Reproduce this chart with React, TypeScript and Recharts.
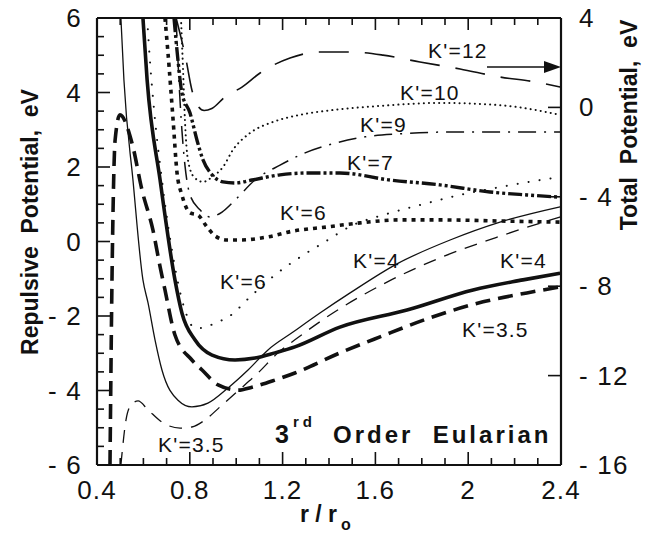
import React from "react";
import { LineChart, Line, XAxis, YAxis, Customized } from "recharts";

type Pt = [number, number];

const INK = "#111";
const FONT = "'Liberation Sans', Arial, Helvetica, sans-serif";

// curves, [r / ro, eV]
const K35_THICK: Pt[] = [
  [0.456, -6], [0.465, -0.85], [0.469, 0.77], [0.478, 2.72], [0.499, 3.4],
  [0.551, 2.64], [0.594, 1.38], [0.641, 0.31], [0.672, -0.68], [0.693, -1.3],
  [0.736, -2.51], [0.809, -3.18], [0.853, -3.45], [0.922, -3.85], [1.008, -3.99],
  [1.068, -3.91], [1.167, -3.72], [1.253, -3.53], [1.447, -2.99], [1.62, -2.56],
  [1.835, -2.05], [2.064, -1.62], [2.253, -1.38], [2.396, -1.22],
];
const K35_THIN: Pt[] = [
  [0.503, -6], [0.508, -5.68], [0.525, -4.79], [0.547, -4.39], [0.577, -4.28],
  [0.62, -4.52], [0.68, -4.85], [0.758, -5.01], [0.809, -4.98], [0.866, -4.79],
  [0.93, -4.44], [1.008, -4.01], [1.094, -3.53], [1.18, -2.99], [1.253, -2.64],
  [1.417, -1.92], [1.65, -1.09], [1.878, -0.44], [2.15, 0.17], [2.396, 0.66],
];
const K4_THIN: Pt[] = [
  [0.503, 6], [0.516, 4.34], [0.555, 1.65], [0.598, -1.03], [0.62, -1.65],
  [0.65, -2.64], [0.68, -3.45], [0.749, -4.26], [0.809, -4.44], [0.878, -4.34],
  [0.965, -3.93], [1.051, -3.45], [1.137, -2.91], [1.245, -2.43], [1.361, -1.92],
  [1.491, -1.38], [1.693, -0.6], [1.922, 0.04], [2.137, 0.52], [2.396, 0.93],
];
const K4_THICK: Pt[] = [
  [0.598, 6], [0.616, 4.34], [0.672, 1.65], [0.736, -1.03], [0.766, -1.92],
  [0.822, -2.64], [0.896, -3.05], [0.995, -3.18], [1.081, -3.13], [1.167, -2.99],
  [1.253, -2.83], [1.447, -2.3], [1.736, -1.84], [2.021, -1.3], [2.236, -1.03],
  [2.396, -0.85],
];
const K6_THIN: Pt[] = [
  [0.616, 6], [0.628, 4.87], [0.646, 3.53], [0.68, 1.65], [0.723, -0.23],
  [0.779, -1.84], [0.822, -2.32], [0.853, -2.32], [0.909, -2.19], [0.965, -2.03],
  [1.068, -1.44], [1.167, -0.9], [1.275, -0.42], [1.374, -0.04], [1.503, 0.44],
  [1.633, 0.71], [1.792, 0.98], [1.965, 1.25], [2.137, 1.46], [2.31, 1.65],
  [2.396, 1.73],
];
const K6_THICK: Pt[] = [
  [0.693, 6], [0.706, 5.06], [0.728, 3.26], [0.745, 1.84], [0.766, 1.25],
  [0.801, 0.77], [0.835, 0.71], [0.874, 0.39], [0.909, 0.15], [0.96, 0.04],
  [1.016, 0.04], [1.133, 0.12], [1.245, 0.28], [1.391, 0.39], [1.534, 0.5],
  [1.706, 0.58], [1.878, 0.58], [2.137, 0.55], [2.396, 0.52],
];
const K7: Pt[] = [
  [0.732, 6], [0.749, 4.87], [0.766, 3.99], [0.801, 3.45], [0.831, 2.72],
  [0.857, 2.19], [0.896, 1.79], [0.943, 1.6], [0.995, 1.57], [1.068, 1.65],
  [1.189, 1.79], [1.318, 1.84], [1.447, 1.84], [1.663, 1.65], [1.878, 1.52],
  [2.094, 1.33], [2.253, 1.25], [2.396, 1.19],
];
const K9: Pt[] = [
  [0.741, 6], [0.753, 4.34], [0.766, 2.99], [0.779, 2.05], [0.801, 1.25],
  [0.844, 0.85], [0.887, 0.66], [0.939, 0.79], [0.995, 1.11], [1.081, 1.65],
  [1.189, 2.05], [1.297, 2.38], [1.426, 2.64], [1.555, 2.81], [1.706, 2.89],
  [1.922, 2.94], [2.137, 2.94], [2.396, 2.94],
];
const K10: Pt[] = [
  [0.762, 6], [0.771, 4.6], [0.779, 3.26], [0.792, 2.19], [0.818, 1.73],
  [0.857, 1.6], [0.896, 1.73], [0.943, 2.0], [0.986, 2.46], [1.059, 2.91],
  [1.159, 3.21], [1.275, 3.4], [1.417, 3.53], [1.62, 3.64], [1.878, 3.72],
  [2.137, 3.66], [2.396, 3.4],
];
// K'=12 is read on the right (total potential) axis
const K12_TOTAL: Pt[] = [
  [0.741, 4], [0.784, 2.12], [0.809, 0.78], [0.836, 0.05], [0.862, -0.14],
  [0.895, -0.05], [0.952, 0.47], [1.025, 0.91], [1.103, 1.54], [1.232, 2.21],
  [1.361, 2.48], [1.491, 2.48], [1.633, 2.34], [1.792, 2.03], [1.965, 1.72],
  [2.137, 1.36], [2.288, 1.14], [2.396, 0.91],
];

const X_TICKS = [
  0.4, 0.5, 0.6, 0.7, 0.8, 0.9, 1.0, 1.1, 1.2, 1.3, 1.4, 1.5, 1.6, 1.7, 1.8,
  1.9, 2.0, 2.1, 2.2, 2.3, 2.4,
];
const X_LABELS = [0.4, 0.8, 1.2, 1.6, 2, 2.4];
const LEFT_TICKS = [
  -6, -5.5, -5, -4.5, -4, -3.5, -3, -2.5, -2, -1.5, -1, -0.5, 0, 0.5, 1, 1.5,
  2, 2.5, 3, 3.5, 4, 4.5, 5, 5.5, 6,
];
const LEFT_LABELS = [-6, -4, -2, 0, 2, 4, 6];
const RIGHT_TICKS = [-16, -12, -8, -4, 0, 4];

const SERIES = [
  { name: "K'=3.5 thick", pts: K35_THICK, w: 3.6, dash: "15 8", axis: "left" },
  { name: "K'=3.5 thin", pts: K35_THIN, w: 1.3, dash: "13 9", axis: "left" },
  { name: "K'=4 thin", pts: K4_THIN, w: 1.3, dash: undefined, axis: "left" },
  { name: "K'=4 thick", pts: K4_THICK, w: 3.6, dash: undefined, axis: "left" },
  { name: "K'=6 thin", pts: K6_THIN, w: 2, dash: "0.1 11", axis: "left", cap: "round" },
  { name: "K'=6 thick", pts: K6_THICK, w: 3.6, dash: "4 5", axis: "left" },
  { name: "K'=7", pts: K7, w: 3.4, dash: "14 3 3 3 3 3", axis: "left" },
  { name: "K'=9", pts: K9, w: 1.5, dash: "18 8 2 8", axis: "left" },
  { name: "K'=10", pts: K10, w: 2, dash: "0.1 5", axis: "left", cap: "round" },
  { name: "K'=12", pts: K12_TOTAL, w: 1.6, dash: "30 16", axis: "right" },
];

const CURVE_LABELS = [
  { text: "K'=12", x: 428, y: 58 },
  { text: "K'=10", x: 400, y: 100 },
  { text: "K'=9", x: 360, y: 132 },
  { text: "K'=7", x: 347, y: 170 },
  { text: "K'=6", x: 280, y: 220 },
  { text: "K'=6", x: 220, y: 289 },
  { text: "K'=4", x: 353, y: 268 },
  { text: "K'=4", x: 500, y: 268 },
  { text: "K'=3.5", x: 462, y: 337 },
  { text: "K'=3.5", x: 158, y: 452 },
];

const fmt = (v: number) => (v < 0 ? `- ${Math.abs(v)}` : `${v}`);
const toRows = (pts: Pt[]) => pts.map(([x, y]) => ({ x, y }));

const tickText = { fontFamily: FONT, fontSize: 26, fill: INK, letterSpacing: 1.2 };

function BottomTick(props: any) {
  const { x, y, payload } = props;
  const v = payload.value;
  const major = X_LABELS.some((m) => Math.abs(m - v) < 1e-6);
  return (
    <g>
      <line x1={x} x2={x} y1={y} y2={y - (major ? 13 : 7)} stroke={INK} strokeWidth={1.6} />
      {major && (
        <text x={x} y={y + 34} textAnchor="middle" {...tickText}>
          {v}
        </text>
      )}
    </g>
  );
}

function TopTick(props: any) {
  const { x, y, payload } = props;
  const v = payload.value;
  const major = X_LABELS.some((m) => Math.abs(m - v) < 1e-6);
  return <line x1={x} x2={x} y1={y} y2={y + (major ? 12 : 7)} stroke={INK} strokeWidth={1.6} />;
}

function LeftTick(props: any) {
  const { x, y, payload } = props;
  const v = payload.value;
  const major = LEFT_LABELS.includes(v);
  return (
    <g>
      <line x1={x} x2={x + (major ? 13 : 7)} y1={y} y2={y} stroke={INK} strokeWidth={1.6} />
      {major && (
        <text x={x - 15} y={y + 9} textAnchor="end" {...tickText}>
          {fmt(v)}
        </text>
      )}
    </g>
  );
}

function RightTick(props: any) {
  const { x, y, payload } = props;
  const v = payload.value;
  return (
    <g>
      <line x1={x} x2={x - 13} y1={y} y2={y} stroke={INK} strokeWidth={1.6} />
      <text x={x + 18} y={y + 9} textAnchor="start" {...tickText}>
        {fmt(v)}
      </text>
    </g>
  );
}

function Annotations() {
  const lbl = { fontFamily: FONT, fontSize: 21, fill: INK, letterSpacing: 1.2 };
  const title = { fontFamily: FONT, fontSize: 23, fontWeight: 700, fill: INK, whiteSpace: "pre" as const };
  return (
    <g>
      {CURVE_LABELS.map((l, i) => (
        <text key={i} x={l.x} y={l.y} {...lbl}>
          {l.text}
        </text>
      ))}
      {/* arrow: K'=12 belongs to the right axis */}
      <line x1={487} y1={67} x2={546} y2={67} stroke={INK} strokeWidth={1.6} />
      <polygon points="544,61 561,67 544,73" fill={INK} />

      <text x={275} y={443} fontFamily={FONT} fontSize={25} fontWeight={700} fill={INK}>3</text>
      <text x={293} y={427} fontFamily={FONT} fontSize={15} fontWeight={700} fill={INK} letterSpacing={4}>rd</text>
      <text x={333} y={443} fontFamily={FONT} fontSize={24} fontWeight={700} fill={INK} letterSpacing={3} style={{ whiteSpace: "pre" }}>
        {"Order  Eularian"}
      </text>

      <text transform="translate(38,222) rotate(-90)" textAnchor="middle" {...title} style={{ whiteSpace: "pre" }}>
        {"Repulsive  Potential,  eV"}
      </text>
      <text transform="translate(637,125) rotate(-90)" textAnchor="middle" {...title} style={{ whiteSpace: "pre" }}>
        {"Total  Potential,  eV"}
      </text>

      <text x={300} y={522} {...title} style={{ whiteSpace: "pre" }}>
        {"r / r"}
      </text>
      <text x={341} y={530} fontFamily={FONT} fontSize={16} fontWeight={700} fill={INK}>o</text>
    </g>
  );
}

export default function App() {
  const axisLine = { stroke: INK, strokeWidth: 2.2 };
  return (
    <div style={{ position: "absolute", left: 0, top: 0, background: "#fff" }}>
      <LineChart width={651} height={546} margin={{ top: 0, right: 0, bottom: 0, left: 0 }}>
        <XAxis
          xAxisId="bottom"
          dataKey="x"
          type="number"
          domain={[0.4, 2.4]}
          ticks={X_TICKS}
          interval={0}
          allowDataOverflow
          height={81}
          tickLine={false}
          tickSize={0}
          tickMargin={0}
          axisLine={axisLine}
          tick={(p: any) => <BottomTick {...p} />}
        />
        <XAxis
          xAxisId="top"
          orientation="top"
          dataKey="x"
          type="number"
          domain={[0.4, 2.4]}
          ticks={X_TICKS}
          interval={0}
          allowDataOverflow
          height={18}
          tickLine={false}
          tickSize={0}
          tickMargin={0}
          axisLine={axisLine}
          tick={(p: any) => <TopTick {...p} />}
        />
        <YAxis
          yAxisId="left"
          type="number"
          domain={[-6, 6]}
          ticks={LEFT_TICKS}
          interval={0}
          allowDataOverflow
          width={97}
          tickLine={false}
          tickSize={0}
          tickMargin={0}
          axisLine={axisLine}
          tick={(p: any) => <LeftTick {...p} />}
        />
        <YAxis
          yAxisId="right"
          orientation="right"
          type="number"
          domain={[-16, 4]}
          ticks={RIGHT_TICKS}
          interval={0}
          allowDataOverflow
          width={90}
          tickLine={false}
          tickSize={0}
          tickMargin={0}
          axisLine={axisLine}
          tick={(p: any) => <RightTick {...p} />}
        />
        {SERIES.map((s) => (
          <Line
            key={s.name}
            name={s.name}
            data={toRows(s.pts)}
            dataKey="y"
            xAxisId="bottom"
            yAxisId={s.axis}
            type="monotone"
            stroke={INK}
            strokeWidth={s.w}
            strokeDasharray={s.dash}
            strokeLinecap={(s as any).cap ?? "butt"}
            dot={false}
            activeDot={false}
            isAnimationActive={false}
          />
        ))}
        <Customized component={<Annotations />} />
      </LineChart>
    </div>
  );
}
